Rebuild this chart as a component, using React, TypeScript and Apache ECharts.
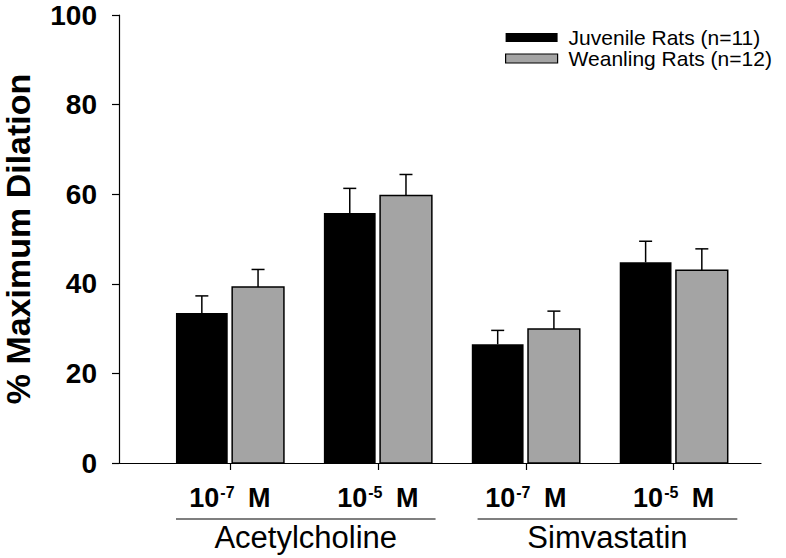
import React, { useEffect, useRef } from 'react';
import * as echarts from 'echarts';

// ---- data ----
const positions = [1, 2, 3, 4];
const exponents = ['-7', '-5', '-7', '-5'];
const juvenile = [33.5, 55.8, 26.5, 44.8];
const juvenileSE = [3.8, 5.5, 3.1, 4.7];
const weanling = [39.3, 59.7, 29.9, 43.0];
const weanlingSE = [3.9, 4.7, 4.0, 4.8];
const seriesNames = ['Juvenile Rats (n=11)', 'Weanling Rats (n=12)'];
const groupNames = ['Acetylcholine', 'Simvastatin'];
const yTicks = [0, 20, 40, 60, 80, 100];

// ---- layout (axis units) ----
const GROUP_START = [0.635, 2.674];
const GROUP_END = [2.39, 4.43];
const BAR_W = 0.35;
const OFFSET = 0.19;
const CAP_HALF = 6.5;
const FONT = '"Liberation Sans", Arial, Helvetica, sans-serif';

function barRenderer(offset: number, fill: string, stroke: string | null) {
  return (params: any, api: any) => {
    const x = api.value(0);
    const y = api.value(1);
    const se = api.value(2);
    const tl = api.coord([x + offset - BAR_W / 2, y]);
    const br = api.coord([x + offset + BAR_W / 2, 0]);
    const top = api.coord([x + offset, y + se]);
    const cx = top[0];
    const err = { stroke: '#000', lineWidth: 1.5 };
    return {
      type: 'group',
      children: [
        { type: 'line', shape: { x1: cx, y1: tl[1], x2: cx, y2: top[1] }, style: err },
        { type: 'line', shape: { x1: cx - CAP_HALF, y1: top[1], x2: cx + CAP_HALF, y2: top[1] }, style: err },
        {
          type: 'rect',
          shape: { x: tl[0], y: tl[1], width: br[0] - tl[0], height: br[1] - tl[1] },
          style: stroke ? { fill, stroke, lineWidth: 1.5 } : { fill, lineWidth: 0 },
        },
      ],
    };
  };
}

function groupRenderer(params: any, api: any) {
  const s = api.value(0);
  const e = api.value(1);
  const a = api.coord([s, 0]);
  const b = api.coord([e, 0]);
  const ly = a[1] + 56;
  return {
    type: 'group',
    children: [
      { type: 'line', shape: { x1: a[0], y1: ly, x2: b[0], y2: ly }, style: { stroke: '#000', lineWidth: 1.2 } },
      {
        type: 'text',
        style: {
          text: groupNames[params.dataIndex],
          x: (a[0] + b[0]) / 2,
          y: ly + 3,
          align: 'center',
          verticalAlign: 'top',
          fontSize: 31,
          fontFamily: FONT,
          fill: '#000',
        },
      },
    ],
  };
}

export default function App() {
  const ref = useRef<HTMLDivElement>(null);
  useEffect(() => {
    document.body.style.margin = '0';
    const chart = echarts.init(ref.current!, null, { renderer: 'svg' });
    const option: any = {
      animation: false,
      backgroundColor: '#fff',
      textStyle: { fontFamily: FONT },
      grid: { left: 119, top: 15, right: 25, bottom: 95, containLabel: false, outerBoundsMode: 'none' },
      legend: {
        orient: 'vertical',
        left: 505,
        top: 27,
        padding: 0,
        itemWidth: 52,
        itemHeight: 9,
        itemGap: 0,
        icon: 'rect',
        selectedMode: false,
        textStyle: { fontSize: 21, lineHeight: 21, color: '#000', fontFamily: FONT, padding: [0, 0, 0, 6] },
        data: [
          { name: seriesNames[0], itemStyle: { color: '#000', borderWidth: 0 } },
          { name: seriesNames[1], itemStyle: { color: '#a4a4a4', borderColor: '#000', borderWidth: 1.2 } },
        ],
      },
      xAxis: {
        type: 'value',
        min: 0.25,
        max: 4.59,
        splitLine: { show: false },
        axisLine: { show: true, onZero: false, lineStyle: { color: '#000', width: 1.2 } },
        axisTick: { show: true, length: 7, customValues: positions, lineStyle: { color: '#000', width: 1.2 } },
        axisLabel: {
          show: true,
          margin: 21,
          customValues: positions,
          formatter: (v: number) => {
            const i = positions.indexOf(Math.round(v));
            return i < 0 ? '' : `{b|10}{s|${exponents[i]}}{b| M}`;
          },
          rich: {
            b: { fontSize: 27, lineHeight: 27, fontWeight: 'bold', color: '#000', fontFamily: FONT },
            s: { fontSize: 16, lineHeight: 16, fontWeight: 'bold', color: '#000', fontFamily: FONT, padding: [0, 6, 11, 1] },
          },
        },
      },
      yAxis: {
        type: 'value',
        min: yTicks[0],
        max: yTicks[yTicks.length - 1],
        interval: yTicks[1] - yTicks[0],
        name: '% Maximum Dilation',
        nameLocation: 'middle',
        nameGap: 84,
        nameTextStyle: { fontSize: 34, fontWeight: 'bold', color: '#000', fontFamily: FONT },
        splitLine: { show: false },
        axisLine: { show: true, lineStyle: { color: '#000', width: 1.2 } },
        axisTick: { show: true, length: 7, lineStyle: { color: '#000', width: 1.2 } },
        axisLabel: { fontSize: 28, fontWeight: 'bold', color: '#000', margin: 22, fontFamily: FONT },
      },
      series: [
        {
          type: 'custom',
          name: seriesNames[0],
          clip: false,
          itemStyle: { color: '#000' },
          encode: { x: 0, y: 1 },
          data: positions.map((p, i) => [p, juvenile[i], juvenileSE[i]]),
          renderItem: barRenderer(-OFFSET, '#000', null),
        },
        {
          type: 'custom',
          name: seriesNames[1],
          clip: false,
          itemStyle: { color: '#a4a4a4' },
          encode: { x: 0, y: 1 },
          data: positions.map((p, i) => [p, weanling[i], weanlingSE[i]]),
          renderItem: barRenderer(OFFSET, '#a4a4a4', '#000'),
        },
        {
          type: 'custom',
          name: 'groups',
          clip: false,
          silent: true,
          encode: { x: [0, 1] },
          data: GROUP_START.map((s, i) => [s, GROUP_END[i]]),
          renderItem: groupRenderer,
        },
      ],
    };
    chart.setOption(option);
    return () => chart.dispose();
  }, []);
  return <div ref={ref} style={{ width: 786, height: 558 }} />;
}
